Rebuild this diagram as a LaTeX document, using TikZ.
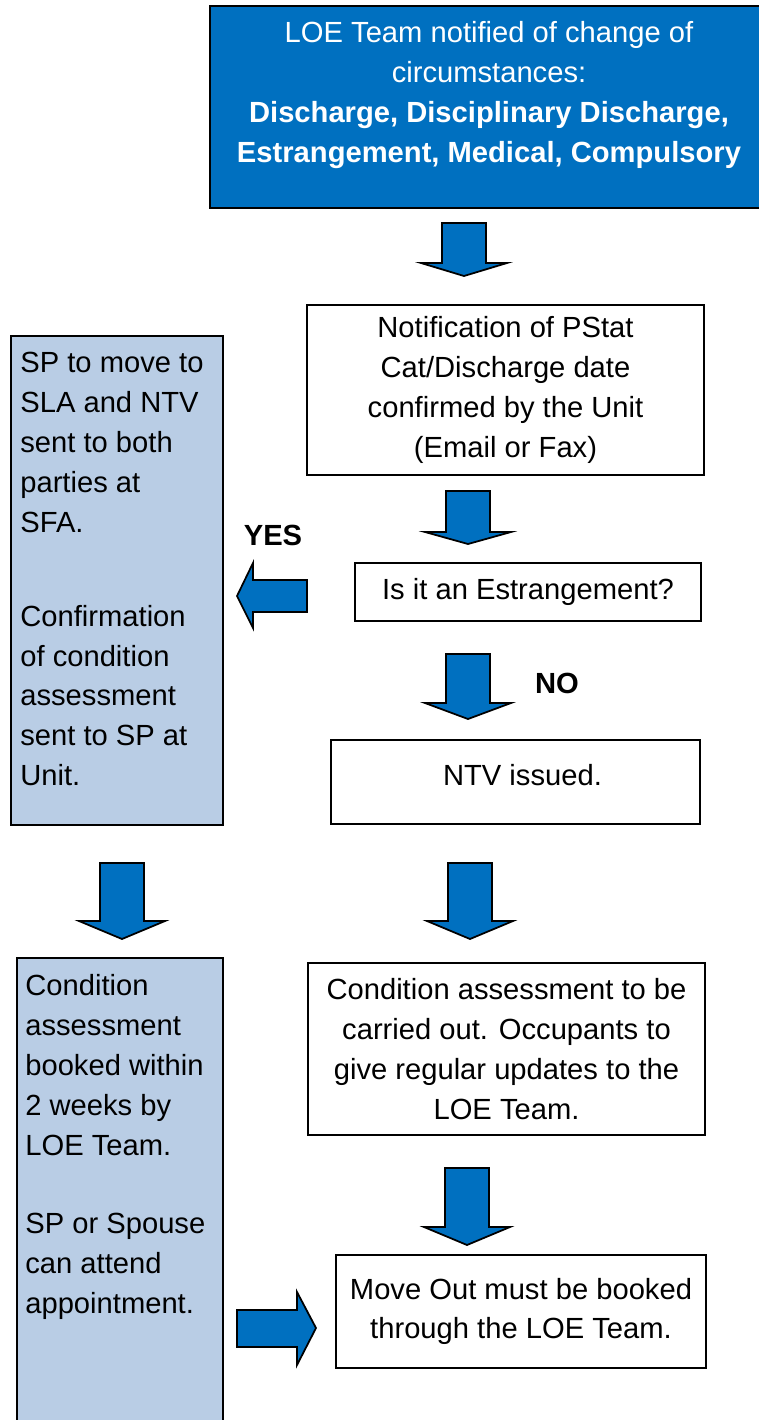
\documentclass[tikz,border=0pt]{standalone}
\usepackage{fontspec}
\setmainfont{Liberation Sans}
\usepackage{tikz}
\definecolor{loeblue}{RGB}{0,112,192}
\definecolor{sideblue}{RGB}{185,205,229}
\newcommand\pxu{0.02cm}
\tikzset{
  txt/.style={font=\fontsize{16.6}{22.7}\selectfont, inner sep=0pt},
  stepbox/.style={draw=black, line width=1.1pt, fill=white, txt, align=center},
  sidebox/.style={draw=black, line width=1.1pt, fill=sideblue},
  blockarrow/.style={draw=black, line width=1pt, fill=loeblue, line join=miter},
}

\begin{document}
\begin{tikzpicture}[x=\pxu, y=-\pxu]
  \useasboundingbox (0,0) rectangle (759,1420);
  % top box
  \node[draw=black, line width=1.1pt, fill=loeblue, anchor=north west,
        minimum width=560*\pxu, minimum height=202*\pxu] (notified) at (209,5) {};
  \node[txt, text=white, align=center] (notifiedtxt) at (489,95)
    {LOE Team notified of change of\\ circumstances:\\
     \bfseries Discharge, Disciplinary Discharge,\\
     \bfseries Estrangement, Medical, Compulsory};
  % right column
  \node[stepbox, minimum width=397*\pxu, minimum height=170*\pxu] (pstat) at (505.5,390)
    {Notification of PStat\\ Cat/Discharge date\\ confirmed by the Unit\\ (Email or Fax)};
  \node[stepbox, minimum width=346*\pxu, minimum height=58*\pxu] (estr) at (528,592)
    {Is it an Estrangement?};
  \node[stepbox, minimum width=369*\pxu, minimum height=84*\pxu, text depth=14*\pxu] (ntv) at (515.5,782)
    {\hspace*{0.28cm}NTV issued.};
  \node[stepbox, minimum width=397*\pxu, minimum height=172*\pxu] (assess) at (506.5,1049)
    {Condition assessment to be\\ carried out. Occupants to\\ give regular updates to the\\ LOE Team.};
  \node[stepbox, minimum width=370*\pxu, minimum height=113*\pxu] (moveout) at (521,1311.5)
    {Move Out must be booked\\ through the LOE Team.};
  % left column
  \node[sidebox, anchor=north west, minimum width=212*\pxu, minimum height=489*\pxu] (sla) at (10,335) {};
  \node[txt, align=left, anchor=north west] (slatxt) at (20,352)
    {SP to move to\\ SLA and NTV\\ sent to both\\ parties at\\ SFA.\\[1.08cm]
     Confirmation\\ of condition\\ assessment\\ sent to SP at\\ Unit.};
  \node[sidebox, anchor=north west, minimum width=206*\pxu, minimum height=490*\pxu] (booked) at (16,957) {};
  \node[txt, align=left, anchor=north west] (bookedtxt) at (25,974)
    {Condition\\ assessment\\ booked within\\ 2 weeks by\\ LOE Team.\\[0.78cm]
     SP or Spouse\\ can attend\\ appointment.};
  % labels
  \node[txt, font=\fontsize{16.6}{22.7}\selectfont\bfseries] (yes) at (273,535) {YES};
  \node[txt, font=\fontsize{16.6}{22.7}\selectfont\bfseries] (no) at (557,683) {NO};
  % block arrows
  \draw[blockarrow] (442,223) -- (486,223) -- (486,263) -- (507,263) -- (464,276) -- (421,263) -- (442,263) -- cycle;
  \draw[blockarrow] (446,491) -- (490,491) -- (490,532) -- (511,532) -- (468,544) -- (425,532) -- (446,532) -- cycle;
  \draw[blockarrow] (446,654) -- (490,654) -- (490,703) -- (511,703) -- (468,719) -- (425,703) -- (446,703) -- cycle;
  \draw[blockarrow] (448,863) -- (492,863) -- (492,921) -- (513,921) -- (470,939) -- (427,921) -- (448,921) -- cycle;
  \draw[blockarrow] (445,1168) -- (489,1168) -- (489,1227) -- (510,1227) -- (467,1245) -- (424,1227) -- (445,1227) -- cycle;
  \draw[blockarrow] (100,863) -- (144,863) -- (144,921) -- (165,921) -- (122,939) -- (79,921) -- (100,921) -- cycle;
  \draw[blockarrow] (307,580) -- (253,580) -- (253,563) -- (237,596) -- (253,628) -- (253,612) -- (307,612) -- cycle;
  \draw[blockarrow] (237,1310) -- (297,1310) -- (297,1292) -- (316,1328) -- (297,1365) -- (297,1347) -- (237,1347) -- cycle;
\end{tikzpicture}
\end{document}
